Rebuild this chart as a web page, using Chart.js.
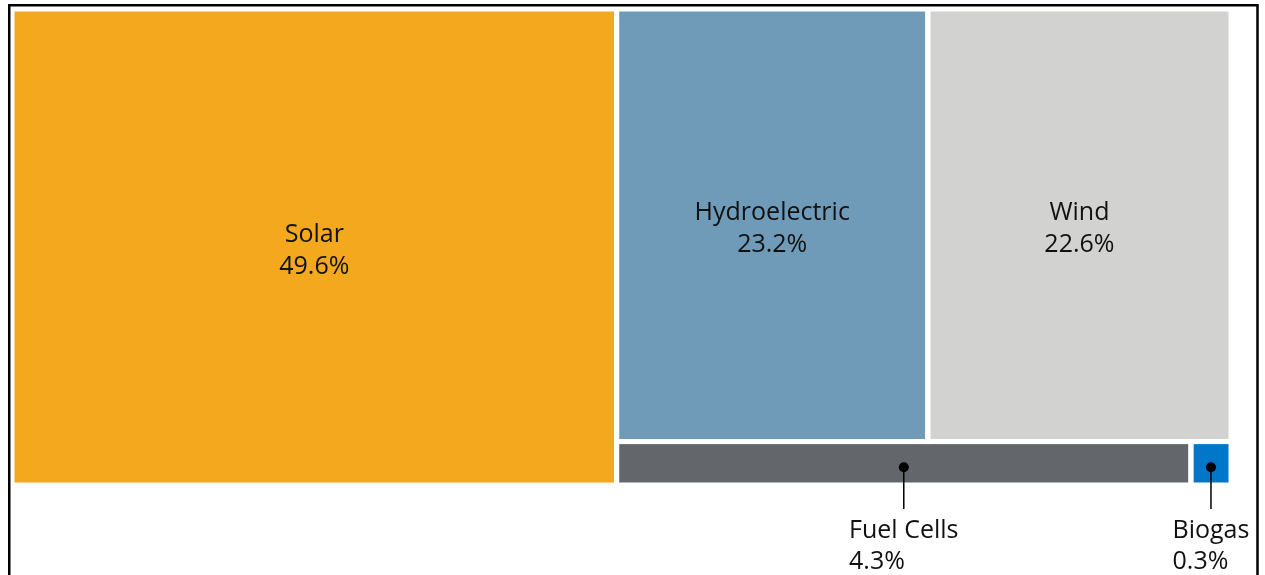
<!DOCTYPE html>
<html>
<head>
<meta charset="utf-8">
<script src="https://cdn.jsdelivr.net/npm/chart.js@4.4.1/dist/chart.umd.min.js"></script>
<style>
body { margin: 0; background: #fff; }
</style>
</head>
<body>
<canvas id="treemap" width="1265" height="575"></canvas>
<script>
// share of capacity, already sorted biggest first
const categories = ['Solar', 'Hydroelectric', 'Wind', 'Fuel Cells', 'Biogas']
const shares = [49.6, 23.2, 22.6, 4.3, 0.3]
const colours = ['#F4A81E', '#6F9BB8', '#D2D2D0', '#63666A', '#0077C8']

const pad = {left: 12, top: 9, right: 34, bottom: 90}
const W = 1265 - pad.left - pad.right
const H = 575 - pad.top - pad.bottom
const FONT = '"Open Sans", sans-serif'

function worst(row, side) {
  let sum = row.reduce((a, b) => a + b, 0)
  let mx = Math.max(...row), mn = Math.min(...row)
  return Math.max(side * side * mx / (sum * sum), (sum * sum) / (side * side * mn))
}

// squarified layout, row direction flips every row
function squarify(values, w, h) {
  let total = values.reduce((a, b) => a + b, 0)
  let areas = values.map(v => v / total * w * h)
  let rect = {x: 0, y: 0, w: w, h: h}
  let vertical = true
  let out = []
  let i = 0
  while (i < areas.length) {
    let side = vertical ? rect.h : rect.w
    let row = [areas[i]]
    i++
    while (i < areas.length && worst(row.concat(areas[i]), side) <= worst(row, side)) {
      row.push(areas[i])
      i++
    }
    let sum = row.reduce((a, b) => a + b, 0)
    if (vertical) {
      let cw = sum / rect.h
      let y = rect.y
      row.forEach(a => {
        let rh = a / cw
        out.push({x: rect.x, y: y, w: cw, h: rh})
        y += rh
      })
      rect.x += cw
      rect.w -= cw
    } else {
      let rh = sum / rect.w
      let x = rect.x
      row.forEach(a => {
        let rw = a / rh
        out.push({x: x, y: rect.y, w: rw, h: rh})
        x += rw
      })
      rect.y += rh
      rect.h -= rh
    }
    vertical = !vertical
  }
  return out
}

const rects = squarify(shares, W, H)

// each tile = a two point line filled down to its bottom edge
const datasets = rects.map((r, i) => ({
  label: categories[i],
  data: [{x: r.x, y: H - r.y}, {x: r.x + r.w, y: H - r.y}],
  fill: {value: H - r.y - r.h},
  backgroundColor: colours[i],
  borderWidth: 0,
  pointRadius: 0
}))

const tileLabels = {
  id: 'tileLabels',
  afterDatasetsDraw(chart) {
    const ctx = chart.ctx
    const xs = chart.scales.x, ys = chart.scales.y
    ctx.save()
    rects.forEach((r, i) => {
      let x0 = xs.getPixelForValue(r.x), x1 = xs.getPixelForValue(r.x + r.w)
      let y0 = ys.getPixelForValue(H - r.y), y1 = ys.getPixelForValue(H - r.y - r.h)
      ctx.strokeStyle = '#fff'
      ctx.lineWidth = 5
      ctx.strokeRect(x0, y0, x1 - x0, y1 - y0)
    })
    ctx.font = '25px ' + FONT
    ctx.fillStyle = '#111'
    ctx.textBaseline = 'middle'
    rects.forEach((r, i) => {
      let x0 = xs.getPixelForValue(r.x), x1 = xs.getPixelForValue(r.x + r.w)
      let y0 = ys.getPixelForValue(H - r.y), y1 = ys.getPixelForValue(H - r.y - r.h)
      let cx = (x0 + x1) / 2, cy = (y0 + y1) / 2
      let pct = shares[i].toFixed(1) + '%'
      if (y1 - y0 > 80) {
        ctx.textAlign = 'center'
        ctx.fillText(categories[i], cx, cy - 12)
        ctx.fillText(pct, cx, cy + 20)
      } else {
        // small tile: dot + leader line, label underneath
        ctx.fillStyle = '#000'
        ctx.beginPath()
        ctx.arc(cx, cy + 4, 5, 0, Math.PI * 2)
        ctx.fill()
        ctx.strokeStyle = '#000'
        ctx.lineWidth = 1.5
        ctx.beginPath()
        ctx.moveTo(cx, cy + 4)
        ctx.lineTo(cx, y1 + 24)
        ctx.stroke()
        ctx.fillStyle = '#111'
        ctx.textAlign = 'left'
        let left = cx - ctx.measureText(categories[i]).width / 2
        ctx.fillText(categories[i], left, y1 + 46)
        ctx.fillText(pct, left, y1 + 77)
      }
    })
    // outer frame
    ctx.strokeStyle = '#000'
    ctx.lineWidth = 2.5
    ctx.beginPath()
    ctx.moveTo(9.25, 600)
    ctx.lineTo(9.25, 5.25)
    ctx.lineTo(1257.5, 5.25)
    ctx.lineTo(1257.5, 600)
    ctx.stroke()
    ctx.restore()
  }
}

new Chart(document.getElementById('treemap'), {
  type: 'line',
  data: {datasets: datasets},
  options: {
    responsive: false,
    animation: false,
    layout: {padding: pad},
    plugins: {legend: {display: false}, tooltip: {enabled: false}},
    scales: {
      x: {type: 'linear', min: 0, max: W, display: false},
      y: {type: 'linear', min: 0, max: H, display: false}
    }
  },
  plugins: [tileLabels]
})
</script>
</body>
</html>
